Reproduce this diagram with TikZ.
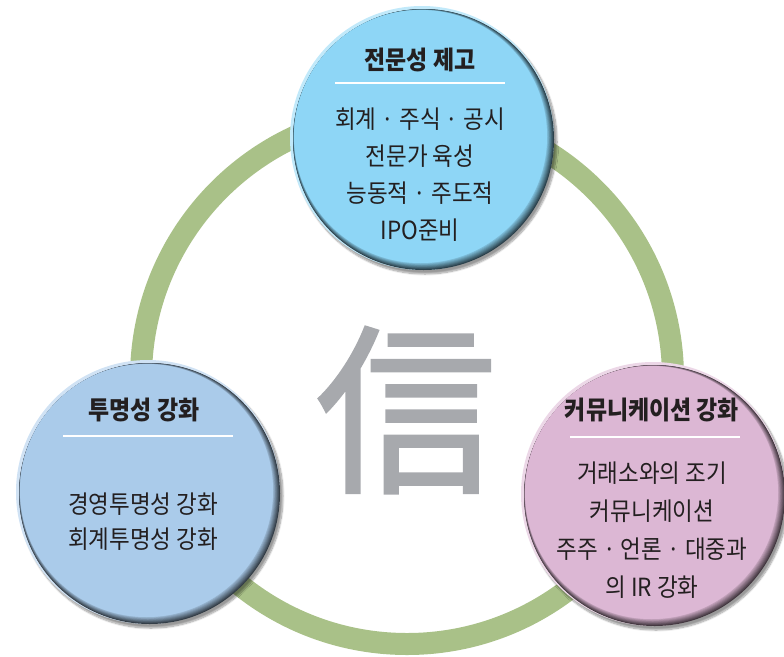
\documentclass[tikz,border=0pt]{standalone}
\usepackage{fontspec}
\newfontfamily\kr[FakeStretch=0.9]{Noto Sans CJK KR}
\newfontfamily\krheavy[FakeBold=1.2]{Noto Sans CJK KR}
\usetikzlibrary{shadows.blur}

\definecolor{ringgreen}{RGB}{169,193,136}
\definecolor{skyblue}{RGB}{142,214,246}
\definecolor{paleblue}{RGB}{170,203,234}
\definecolor{palepink}{RGB}{220,183,212}
\definecolor{glyphgray}{RGB}{167,169,173}
\definecolor{ink}{RGB}{35,31,32}

\tikzset{
  title/.style={font=\kr\bfseries\fontsize{25.5}{30}\selectfont,text=ink,inner sep=0pt},
  body/.style={font=\kr\fontsize{25}{37}\selectfont,text=ink,align=center,inner sep=0pt},
  rule/.style={white,line width=2.5pt},
}

\begin{document}
\begin{tikzpicture}[x=1pt,y=-1pt]
  \useasboundingbox (0,0) rectangle (784,656);

  % green ring behind the three bubbles
  \draw[ringgreen,line width=22pt] (407,378) circle (266);

  % big character in the middle
  \node[font=\krheavy\fontsize{182}{182}\selectfont,text=glyphgray,inner sep=0pt] (sin) at (406,410) {信};

  % bubbles: shadow, light rim, dark rim in steps, face
  \foreach \n/\x/\y/\c in {expert/422/138/skyblue,clear/148/492/paleblue,comm/653/494/palepink} {
    \fill[\c!55!white,blur shadow={shadow xshift=3pt,shadow yshift=-4pt,shadow blur steps=10,shadow opacity=40}]
      (\x,\y) circle (132);
    \foreach \k in {0,...,8} {
      \pgfmathtruncatemacro\p{30+8*\k}
      \fill[\c!\p!black] (\x+1.5-0.35*\k,\y+1.5-0.35*\k) circle (130.5-0.5*\k);
    }
    \fill[\c] (\x-1.5,\y-1.5) circle (126.5);
    \coordinate (\n) at (\x,\y);
  }

  % top bubble
  \node[title] (expert-t) at (420,60) {전문성 제고};
  \draw[rule] (335,83) -- (505,83);
  \node[body] (expert-b) at (420,175) {회계 · 주식 · 공시\\전문가 육성\\능동적 · 주도적\\IPO준비};

  % left bubble
  \node[title] (clear-t) at (144,410) {투명성 강화};
  \draw[rule] (63,436) -- (233,436);
  \node[body,font=\kr\fontsize{25}{35}\selectfont] (clear-b) at (143,522) {경영투명성 강화\\회계투명성 강화};

  % right bubble
  \node[title] (comm-t) at (652,410) {커뮤니케이션 강화};
  \draw[rule] (570,437) -- (740,437);
  \node[body,font=\kr\fontsize{25}{38}\selectfont] (comm-b) at (652,530) {거래소와의 조기\\커뮤니케이션\\주주 · 언론 · 대중과\\의 IR 강화};

\end{tikzpicture}
\end{document}
